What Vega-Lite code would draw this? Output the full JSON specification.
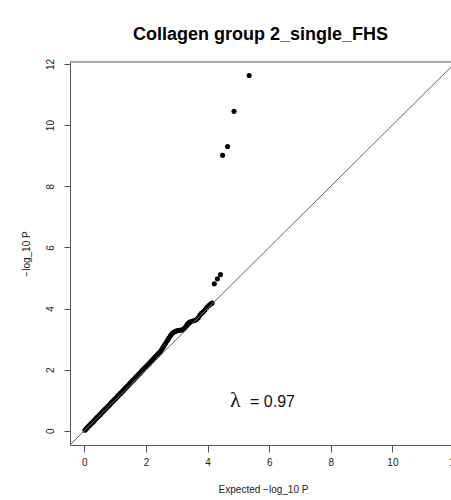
{
  "$schema": "https://vega.github.io/schema/vega-lite/v6.json",
  "autosize": {"type": "none"},
  "padding": {"left": 70, "top": 62, "right": 0, "bottom": 55},
  "width": 381,
  "height": 383,
  "background": "white",
  "title": {
    "text": "Collagen group 2_single_FHS",
    "font": "Liberation Sans",
    "fontSize": 18,
    "fontWeight": "bold",
    "color": "#000000",
    "anchor": "middle",
    "offset": 14
  },
  "config": {
    "view": {"stroke": null},
    "font": "Liberation Sans",
    "axis": {
      "grid": false,
      "domainColor": "#555555",
      "domainWidth": 1,
      "tickColor": "#555555",
      "tickWidth": 1,
      "labelFont": "Liberation Sans",
      "labelColor": "#222222",
      "labelFontSize": 10,
      "titleFont": "Liberation Sans",
      "titleColor": "#222222",
      "titleFontSize": 10,
      "titleFontWeight": "normal"
    }
  },
  "data": {
    "values": [
      {"expected": 0.02, "observed": 0.02}, {"expected": 0.05, "observed": 0.05},
      {"expected": 0.08, "observed": 0.08}, {"expected": 0.11, "observed": 0.12},
      {"expected": 0.14, "observed": 0.15}, {"expected": 0.17, "observed": 0.18},
      {"expected": 0.20, "observed": 0.21}, {"expected": 0.23, "observed": 0.24},
      {"expected": 0.26, "observed": 0.27}, {"expected": 0.29, "observed": 0.30},
      {"expected": 0.32, "observed": 0.33}, {"expected": 0.35, "observed": 0.37},
      {"expected": 0.38, "observed": 0.40}, {"expected": 0.41, "observed": 0.43},
      {"expected": 0.44, "observed": 0.46}, {"expected": 0.47, "observed": 0.49},
      {"expected": 0.50, "observed": 0.52}, {"expected": 0.53, "observed": 0.55},
      {"expected": 0.56, "observed": 0.58}, {"expected": 0.59, "observed": 0.62},
      {"expected": 0.62, "observed": 0.65}, {"expected": 0.65, "observed": 0.68},
      {"expected": 0.68, "observed": 0.71}, {"expected": 0.71, "observed": 0.74},
      {"expected": 0.74, "observed": 0.77}, {"expected": 0.77, "observed": 0.80},
      {"expected": 0.80, "observed": 0.83}, {"expected": 0.83, "observed": 0.86},
      {"expected": 0.86, "observed": 0.90}, {"expected": 0.89, "observed": 0.93},
      {"expected": 0.92, "observed": 0.96}, {"expected": 0.95, "observed": 0.99},
      {"expected": 0.98, "observed": 1.02}, {"expected": 1.01, "observed": 1.05},
      {"expected": 1.04, "observed": 1.08}, {"expected": 1.07, "observed": 1.11},
      {"expected": 1.10, "observed": 1.15}, {"expected": 1.13, "observed": 1.18},
      {"expected": 1.16, "observed": 1.21}, {"expected": 1.19, "observed": 1.24},
      {"expected": 1.22, "observed": 1.27}, {"expected": 1.25, "observed": 1.30},
      {"expected": 1.28, "observed": 1.33}, {"expected": 1.31, "observed": 1.37},
      {"expected": 1.34, "observed": 1.40}, {"expected": 1.37, "observed": 1.43},
      {"expected": 1.40, "observed": 1.46}, {"expected": 1.43, "observed": 1.49},
      {"expected": 1.46, "observed": 1.52}, {"expected": 1.49, "observed": 1.56},
      {"expected": 1.52, "observed": 1.59}, {"expected": 1.55, "observed": 1.62},
      {"expected": 1.58, "observed": 1.65}, {"expected": 1.61, "observed": 1.68},
      {"expected": 1.64, "observed": 1.71}, {"expected": 1.67, "observed": 1.75},
      {"expected": 1.70, "observed": 1.78}, {"expected": 1.73, "observed": 1.81},
      {"expected": 1.76, "observed": 1.84}, {"expected": 1.79, "observed": 1.87},
      {"expected": 1.82, "observed": 1.90}, {"expected": 1.85, "observed": 1.93},
      {"expected": 1.88, "observed": 1.97}, {"expected": 1.91, "observed": 2.00},
      {"expected": 1.94, "observed": 2.03}, {"expected": 1.97, "observed": 2.06},
      {"expected": 2.00, "observed": 2.09}, {"expected": 2.03, "observed": 2.12},
      {"expected": 2.06, "observed": 2.15}, {"expected": 2.09, "observed": 2.18},
      {"expected": 2.12, "observed": 2.21}, {"expected": 2.15, "observed": 2.25},
      {"expected": 2.18, "observed": 2.28}, {"expected": 2.21, "observed": 2.31},
      {"expected": 2.24, "observed": 2.35}, {"expected": 2.27, "observed": 2.38},
      {"expected": 2.30, "observed": 2.41}, {"expected": 2.33, "observed": 2.44},
      {"expected": 2.36, "observed": 2.47}, {"expected": 2.39, "observed": 2.50},
      {"expected": 2.42, "observed": 2.54}, {"expected": 2.45, "observed": 2.57},
      {"expected": 2.50, "observed": 2.64}, {"expected": 2.55, "observed": 2.72},
      {"expected": 2.60, "observed": 2.80}, {"expected": 2.65, "observed": 2.88},
      {"expected": 2.70, "observed": 2.96}, {"expected": 2.75, "observed": 3.04},
      {"expected": 2.80, "observed": 3.12}, {"expected": 2.85, "observed": 3.18},
      {"expected": 2.90, "observed": 3.22}, {"expected": 2.95, "observed": 3.25},
      {"expected": 3.00, "observed": 3.27}, {"expected": 3.05, "observed": 3.28},
      {"expected": 3.10, "observed": 3.29}, {"expected": 3.15, "observed": 3.30},
      {"expected": 3.20, "observed": 3.31}, {"expected": 3.25, "observed": 3.35},
      {"expected": 3.30, "observed": 3.42}, {"expected": 3.35, "observed": 3.49},
      {"expected": 3.40, "observed": 3.54}, {"expected": 3.46, "observed": 3.57},
      {"expected": 3.52, "observed": 3.59}, {"expected": 3.58, "observed": 3.61},
      {"expected": 3.64, "observed": 3.64}, {"expected": 3.70, "observed": 3.70},
      {"expected": 3.75, "observed": 3.78}, {"expected": 3.80, "observed": 3.84},
      {"expected": 3.86, "observed": 3.89}, {"expected": 3.92, "observed": 3.96},
      {"expected": 3.98, "observed": 4.04}, {"expected": 4.04, "observed": 4.10},
      {"expected": 4.10, "observed": 4.15}, {"expected": 4.15, "observed": 4.18},
      {"expected": 4.22, "observed": 4.81}, {"expected": 4.32, "observed": 4.97},
      {"expected": 4.42, "observed": 5.11}, {"expected": 4.49, "observed": 9.01},
      {"expected": 4.65, "observed": 9.30}, {"expected": 4.86, "observed": 10.45},
      {"expected": 5.35, "observed": 11.62}
    ]
  },
  "layer": [
    {
      "mark": {"type": "circle", "color": "#000000", "opacity": 1, "size": 26},
      "encoding": {
        "x": {
          "field": "expected",
          "type": "quantitative",
          "scale": {"domain": [-0.464, 12.064], "range": [0, 386], "nice": false, "zero": false},
          "axis": {
            "values": [0, 2, 4, 6, 8, 10, 12],
            "title": "Expected −log_10 P",
            "tickSize": 7,
            "labelPadding": 5,
            "labelFlush": false,
            "labelOverlap": false,
            "titlePadding": 17
          }
        },
        "y": {
          "field": "observed",
          "type": "quantitative",
          "scale": {"domain": [-0.464, 12.064], "nice": false, "zero": false},
          "axis": {
            "values": [0, 2, 4, 6, 8, 10, 12],
            "title": "−log_10 P",
            "tickSize": 6,
            "labelAngle": -90,
            "labelAlign": "center",
            "labelBaseline": "middle",
            "labelPadding": 14,
            "labelFlush": false,
            "labelOverlap": false,
            "titlePadding": 14
          }
        }
      }
    },
    {
      "data": {"values": [{}]},
      "mark": {"type": "rule", "color": "#555555", "strokeWidth": 1},
      "encoding": {
        "y": {"datum": 12.064, "type": "quantitative"}
      }
    },
    {
      "data": {"values": [{}]},
      "mark": {"type": "rule", "color": "#666666", "strokeWidth": 1, "clip": true},
      "encoding": {
        "x": {"datum": -0.464, "type": "quantitative"},
        "y": {"datum": -0.464, "type": "quantitative"},
        "x2": {"datum": 12.064},
        "y2": {"datum": 12.064}
      }
    },
    {
      "data": {"values": [{}]},
      "mark": {"type": "text", "text": "λ", "font": "Liberation Serif", "fontSize": 22, "color": "#111111", "align": "center", "baseline": "alphabetic"},
      "encoding": {
        "x": {"datum": 4.9, "type": "quantitative"},
        "y": {"datum": 0.78, "type": "quantitative"}
      }
    },
    {
      "data": {"values": [{}]},
      "mark": {"type": "text", "text": "= 0.97", "font": "Liberation Sans", "fontSize": 16, "color": "#111111", "align": "left", "baseline": "alphabetic"},
      "encoding": {
        "x": {"datum": 5.38, "type": "quantitative"},
        "y": {"datum": 0.78, "type": "quantitative"}
      }
    }
  ]
}
